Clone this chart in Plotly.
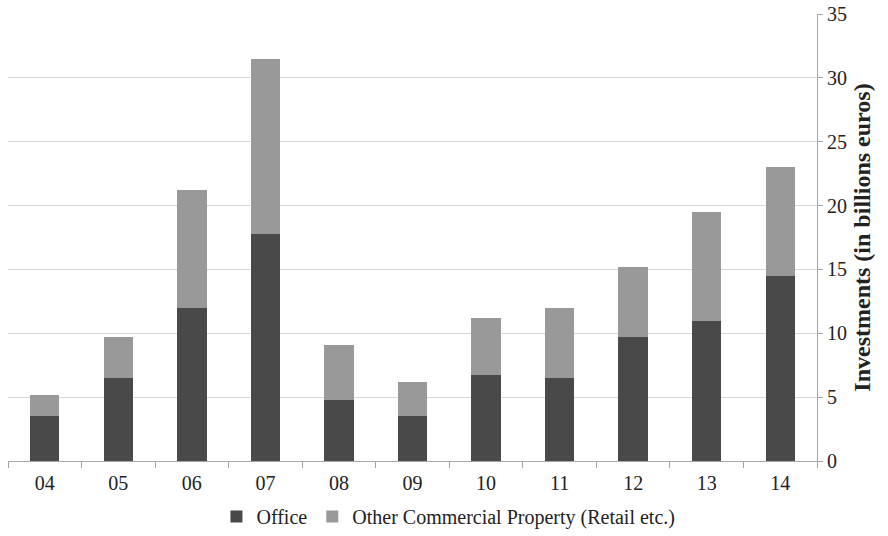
import plotly.graph_objects as go

# Commercial property investments, in billions of euros
years = ["04", "05", "06", "07", "08", "09", "10", "11", "12", "13", "14"]
office = [3.5, 6.5, 12.0, 17.8, 4.8, 3.5, 6.7, 6.5, 9.7, 11.0, 14.5]
other_commercial = [1.7, 3.2, 9.2, 13.7, 4.3, 2.7, 4.5, 5.5, 5.5, 8.5, 8.5]
y_ticks = [0, 5, 10, 15, 20, 25, 30, 35]

font_family = "Liberation Serif"

fig = go.Figure()
fig.add_trace(go.Bar(
    x=years, y=office, name="Office",
    marker=dict(color="#494949", line=dict(width=0)),
))
fig.add_trace(go.Bar(
    x=years, y=other_commercial, name="Other Commercial Property (Retail etc.)",
    marker=dict(color="#999999", line=dict(width=0)),
))

fig.update_layout(
    barmode="stack",
    bargap=0.6,
    width=888, height=536,
    margin=dict(l=8, r=71, t=14, b=75, autoexpand=False),
    paper_bgcolor="white",
    plot_bgcolor="white",
    font=dict(family=font_family, size=20, color="#222222"),
    showlegend=True,
    legend=dict(
        orientation="h",
        xref="container", x=0.505, xanchor="center",
        yref="container", y=0.0, yanchor="bottom",
        font=dict(size=20),
        itemwidth=30,
        traceorder="normal",
    ),
    xaxis=dict(
        type="category",
        showline=True, linecolor="#a6a6a6", linewidth=1,
        ticks="outside", tickson="boundaries", ticklen=6, tickcolor="#a6a6a6",
        showgrid=False,
        tickfont=dict(size=20),
        ticklabelstandoff=4,
    ),
    yaxis=dict(
        side="right",
        range=[0, 35],
        tickvals=y_ticks,
        showline=True, linecolor="#a6a6a6", linewidth=1,
        ticks="outside", ticklen=5, tickcolor="#a6a6a6",
        showgrid=True, gridcolor="#d9d9d9", gridwidth=1,
        zeroline=False,
        tickfont=dict(size=20),
        title=dict(
            text="<b>Investments (in billions euros)</b>",
            font=dict(size=24),
            standoff=7,
        ),
    ),
)

fig.write_html("out.html")
